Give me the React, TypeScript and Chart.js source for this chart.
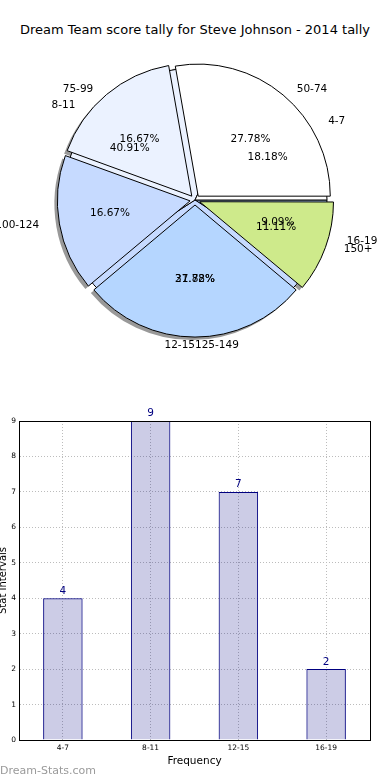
import React, { useEffect, useRef } from 'react';
import { Chart, registerables } from 'chart.js';

Chart.register(...registerables);

const TITLE = 'Dream Team score tally for Steve Johnson - 2014 tally';
const scoreLabels = ['50-74', '75-99', '100-124', '125-149', '150+'];
const scoreValues = [5, 3, 3, 5, 2];
const freqLabels = ['4-7', '8-11', '12-15', '16-19'];
const freqValues = [4, 9, 7, 2];
const wedgeColors = ['#ffffff', '#ebf2ff', '#c6daff', '#b5d6ff', '#ceea8b'];
const yMax = 9;
const xTitle = 'Frequency';
const yTitle = 'Stat Intervals';
const watermark = 'Dream-Stats.com';

const FONT = '"DejaVu Sans", sans-serif';

export default function App() {
  const shadowRef = useRef<HTMLCanvasElement>(null);
  const bottomRef = useRef<HTMLCanvasElement>(null);
  const topRef = useRef<HTMLCanvasElement>(null);
  const barRef = useRef<HTMLCanvasElement>(null);

  useEffect(() => {
    const R = 132;
    const OFF = 20; // Chart.js shifts arcs by offset/4 px
    const SX = 1.09;
    const SY = 1.0;
    const rev = <T,>(a: T[]) => [...a].reverse();

    const baseOpts: any = {
      responsive: false,
      animation: false,
      rotation: 90,
      radius: R,
      plugins: { legend: { display: false }, tooltip: { enabled: false } },
      events: [],
    };

    const shadow = new Chart(shadowRef.current!, {
      type: 'pie',
      data: {
        labels: rev(scoreLabels),
        datasets: [{
          data: rev(scoreValues),
          backgroundColor: 'rgba(0,0,0,0.4)',
          borderWidth: 0,
          offset: OFF,
        }],
      },
      options: { ...baseOpts, layout: { padding: { left: 0, right: 6, top: 6, bottom: 0 } } },
    });

    const bottom = new Chart(bottomRef.current!, {
      type: 'pie',
      data: {
        labels: rev(freqLabels),
        datasets: [{
          data: rev(freqValues),
          backgroundColor: rev(wedgeColors.slice(0, freqValues.length)),
          borderColor: '#000',
          borderWidth: 1,
          offset: 0,
        }],
      },
      options: { ...baseOpts, layout: { padding: 0 } },
    });

    const labelPlugin = {
      id: 'pieLabels',
      afterDatasetsDraw(chart: any) {
        const ctx = chart.ctx;
        ctx.save();
        ctx.font = `10.5px ${FONT}`;
        ctx.fillStyle = '#000';
        ctx.textBaseline = 'middle';
        const drawSet = (c: any, tieRight: boolean) => {
          const arcs = c.getDatasetMeta(0).data;
          const values: number[] = c.data.datasets[0].data;
          const labels: string[] = c.data.labels;
          const total = values.reduce((a, b) => a + b, 0);
          arcs.forEach((arc: any, i: number) => {
            const p = arc.getProps(['x', 'y', 'startAngle', 'endAngle', 'outerRadius'], true);
            const mid = (p.startAngle + p.endAngle) / 2;
            const co = Math.cos(mid);
            const si = Math.sin(mid);
            const lr = 1.1 * p.outerRadius;
            ctx.textAlign = co > 1e-9 ? 'left' : co < -1e-9 ? 'right' : (tieRight ? 'right' : 'left');
            ctx.fillText(labels[i], p.x + lr * SX * co, p.y + lr * SY * si);
            const pr = 0.6 * p.outerRadius;
            ctx.textAlign = 'center';
            ctx.fillText(((values[i] / total) * 100).toFixed(2) + '%', p.x + pr * SX * co, p.y + pr * SY * si);
          });
        };
        drawSet(chart, false);
        drawSet(bottom, true);
        ctx.restore();
      },
    };

    const top = new Chart(topRef.current!, {
      type: 'pie',
      data: {
        labels: rev(scoreLabels),
        datasets: [{
          data: rev(scoreValues),
          backgroundColor: rev(wedgeColors),
          borderColor: '#000',
          borderWidth: 1,
          offset: OFF,
        }],
      },
      options: { ...baseOpts, layout: { padding: 0 } },
      plugins: [labelPlugin],
    });

    const barPlugin = {
      id: 'frameValues',
      afterDatasetsDraw(chart: any) {
        const ctx = chart.ctx;
        const a = chart.chartArea;
        ctx.save();
        ctx.strokeStyle = '#000';
        ctx.lineWidth = 1;
        ctx.strokeRect(Math.round(a.left) + 0.5, Math.round(a.top) + 0.5, Math.round(a.right - a.left), Math.round(a.bottom - a.top));
        ctx.fillStyle = '#000080';
        ctx.font = `10.5px ${FONT}`;
        ctx.textAlign = 'center';
        ctx.textBaseline = 'bottom';
        const vals = chart.data.datasets[0].data;
        chart.getDatasetMeta(0).data.forEach((bar: any, i: number) => {
          ctx.fillText(String(vals[i]), bar.x, bar.y - 2);
        });
        ctx.restore();
      },
    };

    const gridColor = '#bcbcbc';
    const bar = new Chart(barRef.current!, {
      type: 'bar',
      data: {
        labels: freqLabels,
        datasets: [{
          data: freqValues,
          backgroundColor: 'rgba(0,0,128,0.2)',
          borderColor: '#000080',
          borderWidth: 1,
          categoryPercentage: 1,
          barPercentage: 0.45,
        }],
      },
      options: {
        responsive: false,
        animation: false,
        events: [],
        layout: { padding: { top: 31, right: 20, left: 0, bottom: 0 } },
        plugins: { legend: { display: false }, tooltip: { enabled: false } },
        scales: {
          x: {
            grid: { offset: false, color: gridColor, drawTicks: false },
            border: { display: true, color: '#000', width: 1, dash: [1, 2] },
            ticks: { font: { family: FONT, size: 7.5 }, color: '#000', padding: 4 },
            title: { display: true, text: xTitle, font: { family: FONT, size: 10.5 }, color: '#000', padding: { top: 2, bottom: 12 } },
            afterFit(s: any) { s.height = 40; },
          },
          y: {
            min: 0,
            max: yMax,
            ticks: { stepSize: 1, font: { family: FONT, size: 7.5 }, color: '#000', padding: 3 },
            grid: { color: gridColor, drawTicks: false },
            border: { display: true, color: '#000', width: 1, dash: [1, 2] },
            title: { display: true, text: yTitle, font: { family: FONT, size: 10, lineHeight: 0.6 }, color: '#000', padding: 0 },
            afterFit(s: any) { s.width = 19; },
          },
        },
      } as any,
      plugins: [barPlugin],
    });

    return () => {
      top.destroy();
      bottom.destroy();
      shadow.destroy();
      bar.destroy();
    };
  }, []);

  const abs: React.CSSProperties = { position: 'absolute', left: 0, top: 0 };
  return (
    <div style={{ position: 'absolute', left: 0, top: 0, width: 390, height: 780, background: '#fff', overflow: 'hidden' }}>
      <div style={{ position: 'absolute', left: 0, top: 21, width: 390, textAlign: 'center', font: `13px ${FONT}`, color: '#000', lineHeight: '18px' }}>{TITLE}</div>
      <canvas ref={shadowRef} width={390} height={400} style={abs} />
      <canvas ref={bottomRef} width={390} height={400} style={abs} />
      <canvas ref={topRef} width={390} height={400} style={abs} />
      <canvas ref={barRef} width={390} height={390} style={{ position: 'absolute', left: 0, top: 390 }} />
      <div style={{ position: 'absolute', left: 0, top: 763, font: `11px ${FONT}`, color: '#9a9a9a', lineHeight: '16px' }}>{watermark}</div>
    </div>
  );
}
